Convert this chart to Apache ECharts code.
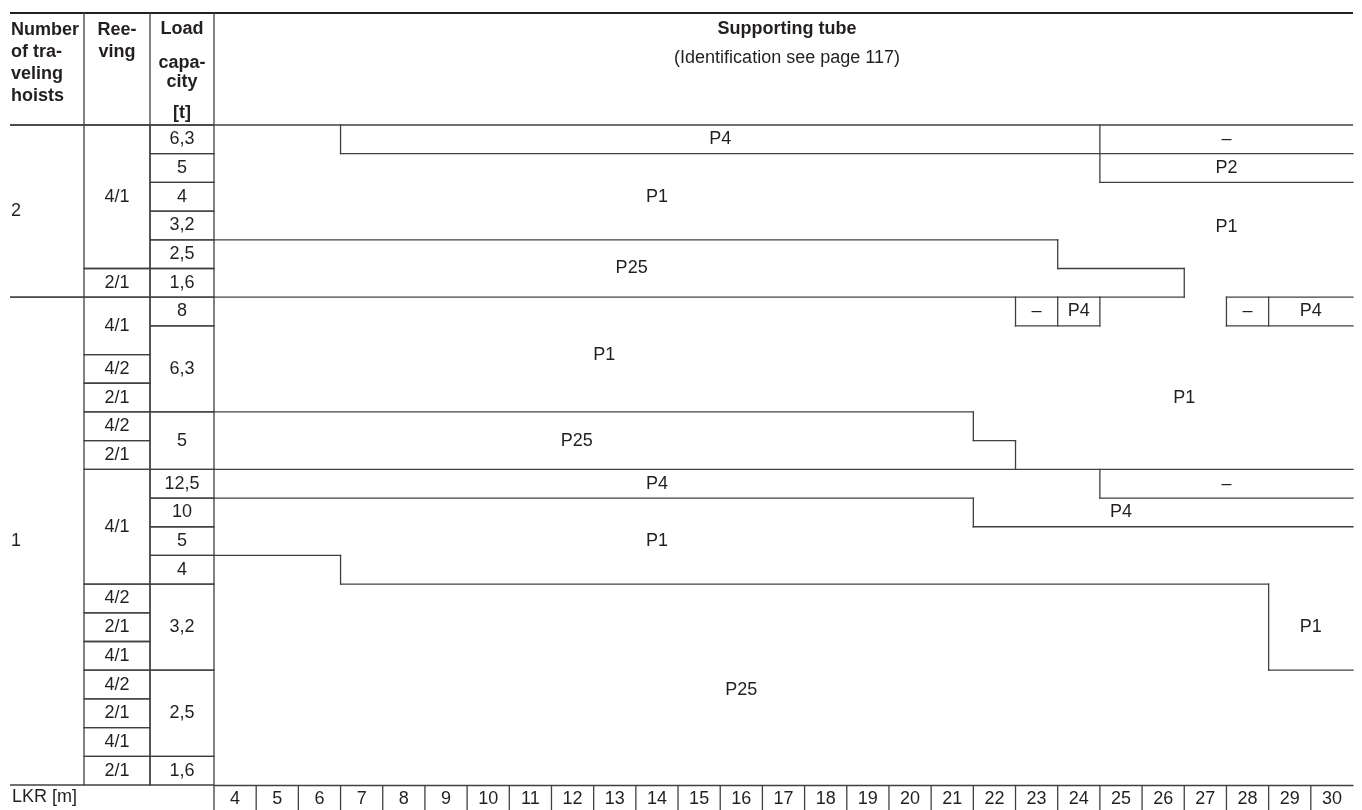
<!DOCTYPE html>
<html>
<head>
<meta charset="utf-8">
<script src="https://cdn.jsdelivr.net/npm/echarts@6/dist/echarts.min.js"></script>
<style>
html, body { margin: 0; padding: 0; background: #fff; }
#chart { width: 1362px; height: 810px; }
</style>
</head>
<body>
<div id="chart"></div>
<script>
var chart = echarts.init(document.getElementById('chart'));

var LINE = '#404040';
var INK = '#231f20';
var FONT = '"Liberation Sans", Arial, sans-serif';
var LW = 1.3;
var LKR_ROW_H = 25;

// LKR [m] columns
var lkr = ['4', '5', '6', '7', '8', '9', '10', '11', '12', '13', '14', '15', '16', '17',
  '18', '19', '20', '21', '22', '23', '24', '25', '26', '27', '28', '29', '30'];

// left table cells: [text, first row, row span]
var hoists = [['2', 0, 6], ['1', 6, 17]];
var reeving = [
  ['4/1', 0, 5], ['2/1', 5, 1],
  ['4/1', 6, 2], ['4/2', 8, 1], ['2/1', 9, 1], ['4/2', 10, 1], ['2/1', 11, 1],
  ['4/1', 12, 4], ['4/2', 16, 1], ['2/1', 17, 1], ['4/1', 18, 1],
  ['4/2', 19, 1], ['2/1', 20, 1], ['4/1', 21, 1], ['2/1', 22, 1]
];
var capacity = [
  ['6,3', 0, 1], ['5', 1, 1], ['4', 2, 1], ['3,2', 3, 1], ['2,5', 4, 1], ['1,6', 5, 1],
  ['8', 6, 1], ['6,3', 7, 3], ['5', 10, 2], ['12,5', 12, 1], ['10', 13, 1], ['5', 14, 1],
  ['4', 15, 1], ['3,2', 16, 3], ['2,5', 19, 3], ['1,6', 22, 1]
];

// supporting tube per row: [tube, from LKR, to LKR]
var tubes = [
  [['P1', 4, 6], ['P4', 7, 24], ['–', 25, 30]],
  [['P1', 4, 24], ['P2', 25, 30]],
  [['P1', 4, 30]],
  [['P1', 4, 30]],
  [['P25', 4, 23], ['P1', 24, 30]],
  [['P25', 4, 26], ['P1', 27, 30]],
  [['P1', 4, 22], ['–', 23, 23], ['P4', 24, 24], ['P1', 25, 27], ['–', 28, 28], ['P4', 29, 30]],
  [['P1', 4, 30]],
  [['P1', 4, 30]],
  [['P1', 4, 30]],
  [['P25', 4, 21], ['P1', 22, 30]],
  [['P25', 4, 22], ['P1', 23, 30]],
  [['P4', 4, 24], ['–', 25, 30]],
  [['P1', 4, 21], ['P4', 22, 30]],
  [['P1', 4, 30]],
  [['P25', 4, 6], ['P1', 7, 30]],
  [['P25', 4, 28], ['P1', 29, 30]],
  [['P25', 4, 28], ['P1', 29, 30]],
  [['P25', 4, 28], ['P1', 29, 30]],
  [['P25', 4, 30]],
  [['P25', 4, 30]],
  [['P25', 4, 30]],
  [['P25', 4, 30]]
];

// tube labels: [text, LKR, row]
var tubeLabels = [
  ['P4', 15.5, 0.5], ['–', 27.5, 0.5], ['P2', 27.5, 1.5],
  ['P1', 14, 2.5], ['P1', 27.5, 3.55], ['P25', 13.4, 5],
  ['–', 23, 6.5], ['P4', 24, 6.5], ['–', 28, 6.5], ['P4', 29.5, 6.5],
  ['P1', 12.75, 8], ['P1', 26.5, 9.5], ['P25', 12.1, 11],
  ['P4', 14, 12.5], ['–', 27.5, 12.5], ['P4', 25, 13.5],
  ['P1', 14, 14.5], ['P1', 29.5, 17.5], ['P25', 16, 19.7]
];

var ROWS = tubes.length;

function tubeAt(r, c) {
  var segs = tubes[r];
  for (var i = 0; i < segs.length; i++) {
    if (c >= segs[i][1] && c <= segs[i][2]) return segs[i][0];
  }
  return null;
}

// region borders where the tube changes
var borders = [];
for (var r = 0; r < ROWS - 1; r++) {
  var start = null;
  for (var c = 4; c <= 31; c++) {
    var diff = c <= 30 && tubeAt(r, c) !== tubeAt(r + 1, c);
    if (diff && start === null) start = c;
    if (!diff && start !== null) {
      borders.push([start - 0.5, r + 1, c - 0.5, r + 1]);
      start = null;
    }
  }
}
for (var c2 = 4; c2 < 30; c2++) {
  var s = null;
  for (var r2 = 0; r2 <= ROWS; r2++) {
    var d = r2 < ROWS && tubeAt(r2, c2) !== tubeAt(r2, c2 + 1);
    if (d && s === null) s = r2;
    if (!d && s !== null) {
      borders.push([c2 + 0.5, s, c2 + 0.5, r2]);
      s = null;
    }
  }
}

function txt(text, x, y, align, bold) {
  return {
    type: 'text', x: x, y: y,
    style: {
      text: text, fill: INK, font: (bold ? 'bold ' : '') + '18px ' + FONT,
      align: align, textAlign: align, verticalAlign: 'middle', textVerticalAlign: 'middle'
    }
  };
}

function hline(x1, x2, y, w, col) {
  return { type: 'line', shape: { x1: x1, y1: y, x2: x2, y2: y }, style: { stroke: col || LINE, lineWidth: w || LW } };
}
function vline(x, y1, y2) {
  return { type: 'line', shape: { x1: x, y1: y1, x2: x, y2: y2 }, style: { stroke: LINE, lineWidth: LW } };
}

function cellSeries(idx, cells, boxed) {
  return {
    type: 'custom',
    xAxisIndex: idx, yAxisIndex: idx,
    encode: { x: [0, 2], y: [1, 3] },
    data: cells.map(function (c) { return [0, c[1], 1, c[1] + c[2]]; }),
    renderItem: function (params, api) {
      var c = cells[params.dataIndex];
      var p0 = api.coord([0, c[1]]);
      var p1 = api.coord([1, c[1] + c[2]]);
      var kids = [];
      if (boxed) {
        kids.push({
          type: 'rect',
          shape: { x: p0[0], y: p0[1], width: p1[0] - p0[0], height: p1[1] - p0[1] },
          style: { fill: 'none', stroke: LINE, lineWidth: LW }
        });
        kids.push(txt(c[0], (p0[0] + p1[0]) / 2, (p0[1] + p1[1]) / 2, 'center'));
      } else {
        kids.push(hline(p0[0], p1[0], p0[1]), hline(p0[0], p1[0], p1[1]));
        kids.push(txt(c[0], p0[0] + 1, (p0[1] + p1[1]) / 2, 'left'));
      }
      return { type: 'group', children: kids };
    }
  };
}

var gridBase = { top: 125, bottom: 25, outerBoundsMode: 'none', containLabel: false };
var hiddenX = function (g) { return { type: 'value', gridIndex: g, min: 0, max: 1, show: false }; };
var hiddenY = function (g) { return { type: 'value', gridIndex: g, min: 0, max: ROWS, inverse: true, show: false }; };

var option = {
  backgroundColor: '#fff',
  animation: false,
  grid: [
    Object.assign({ left: 10, width: 74 }, gridBase),
    Object.assign({ left: 84, width: 66 }, gridBase),
    Object.assign({ left: 150, width: 64 }, gridBase),
    Object.assign({ left: 214, right: 9 }, gridBase)
  ],
  xAxis: [
    hiddenX(0), hiddenX(1), hiddenX(2),
    {
      type: 'category', gridIndex: 3, data: lkr, position: 'bottom', boundaryGap: true,
      axisLine: { show: true, onZero: false, lineStyle: { color: LINE, width: LW } },
      axisTick: { show: false },
      axisLabel: { interval: 0, margin: 5, color: INK, fontSize: 18, fontFamily: FONT },
      splitLine: { show: false }
    },
    { type: 'value', gridIndex: 3, min: 3.5, max: 30.5, show: false }
  ],
  yAxis: [hiddenY(0), hiddenY(1), hiddenY(2), hiddenY(3)],
  series: [
    cellSeries(0, hoists, false),
    cellSeries(1, reeving, true),
    cellSeries(2, capacity, true),
    {
      type: 'custom',
      xAxisIndex: 4, yAxisIndex: 3,
      encode: { x: [0, 2], y: [1, 3] },
      data: borders,
      renderItem: function (params, api) {
        var a = api.coord([api.value(0), api.value(1)]);
        var b = api.coord([api.value(2), api.value(3)]);
        return {
          type: 'line',
          shape: { x1: a[0], y1: a[1], x2: b[0], y2: b[1] },
          style: { stroke: LINE, lineWidth: LW, lineCap: 'square' }
        };
      }
    },
    {
      // separators of the LKR row, one at the left edge of each column
      type: 'custom',
      xAxisIndex: 4, yAxisIndex: 3,
      encode: { x: 0, y: 1 },
      data: lkr.map(function (v) { return [Number(v), ROWS]; }),
      renderItem: function (params, api) {
        var p = api.coord([api.value(0) - 0.5, api.value(1)]);
        return vline(p[0], p[1], p[1] + LKR_ROW_H);
      }
    },
    {
      type: 'custom',
      xAxisIndex: 4, yAxisIndex: 3,
      encode: { x: 0, y: 1 },
      data: tubeLabels.map(function (t) { return [t[1], t[2]]; }),
      renderItem: function (params, api) {
        var p = api.coord([api.value(0), api.value(1)]);
        return txt(tubeLabels[params.dataIndex][0], p[0], p[1], 'center');
      }
    }
  ],
  graphic: [
    hline(10, 1353, 13, 2, '#222'),
    hline(10, 1353, 125),
    vline(84, 13, 125),
    vline(150, 13, 125),
    vline(214, 13, 125),
    {
      type: 'text', x: 11, y: 19.5,
      style: { text: 'Number\nof tra-\nveling\nhoists', fill: INK, font: 'bold 18px ' + FONT, lineHeight: 22, align: 'left', textAlign: 'left' }
    },
    {
      type: 'text', x: 117, y: 19.5,
      style: { text: 'Ree-\nving', fill: INK, font: 'bold 18px ' + FONT, lineHeight: 22, align: 'center', textAlign: 'center' }
    },
    txt('Load', 182, 29, 'center', true),
    txt('capa-', 182, 63, 'center', true),
    txt('city', 182, 82, 'center', true),
    txt('[t]', 182, 113, 'center', true),
    txt('Supporting tube', 787, 29, 'center', true),
    txt('(Identification see page 117)', 787, 58, 'center', false),
    txt('LKR [m]', 12, 797, 'left', false)
  ]
};

chart.setOption(option);
</script>
</body>
</html>
